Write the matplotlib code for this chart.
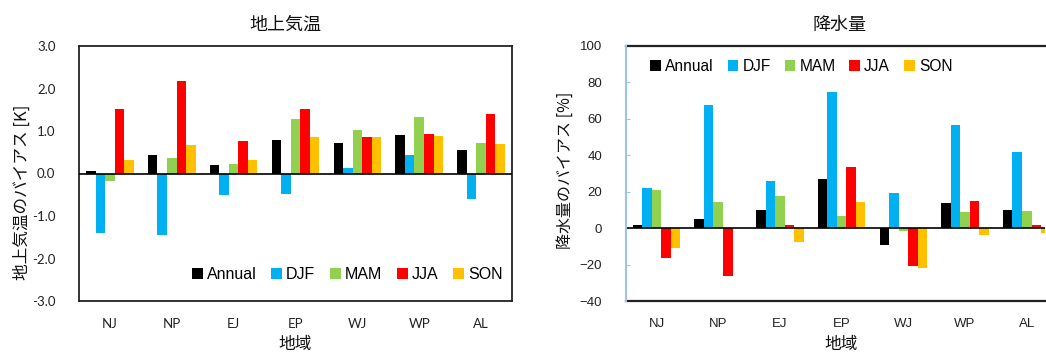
import numpy as np
import matplotlib
matplotlib.use("Agg")
import matplotlib.pyplot as plt

regions = ["NJ", "NP", "EJ", "EP", "WJ", "WP", "AL"]
seasons = ["Annual", "DJF", "MAM", "JJA", "SON"]
colors = ["#000000", "#00B0F0", "#92D050", "#FF0000", "#FFC000"]

# surface air temperature bias [K]
temp_annual = [0.06, 0.44, 0.20, 0.80, 0.72, 0.90, 0.56]
temp_djf = [-1.39, -1.45, -0.50, -0.48, 0.13, 0.43, -0.59]
temp_mam = [-0.18, 0.37, 0.23, 1.28, 1.03, 1.33, 0.72]
temp_jja = [1.52, 2.17, 0.76, 1.52, 0.86, 0.94, 1.39]
temp_son = [0.32, 0.68, 0.32, 0.87, 0.86, 0.89, 0.69]

# precipitation bias [%]
prec_annual = [1.6, 5.0, 10.0, 27.0, -9.3, 13.6, 10.0]
prec_djf = [22.0, 67.4, 25.7, 75.0, 19.5, 56.6, 41.6]
prec_mam = [21.0, 14.3, 17.5, 6.7, -1.6, 9.0, 9.5]
prec_jja = [-16.5, -26.0, 1.8, 33.6, -20.7, 14.9, 2.0]
prec_son = [-11.0, 0.0, -7.7, 14.3, -22.0, -4.0, -2.7]

temp = [temp_annual, temp_djf, temp_mam, temp_jja, temp_son]
prec = [prec_annual, prec_djf, prec_mam, prec_jja, prec_son]

JP = ["Noto Sans CJK JP", "DejaVu Sans"]
NUM_L = ["Lato", "DejaVu Sans"]
NUM_R = ["Liberation Sans", "DejaVu Sans"]

fig = plt.figure(figsize=(10.46, 3.52), dpi=100)
W, H = 1046.0, 352.0


def px_axes(x0, y0, x1, y1):
    return fig.add_axes([x0 / W, 1 - y1 / H, (x1 - x0) / W, (y1 - y0) / H])


def draw_bars(ax, series):
    x = np.arange(len(regions))
    bw = 0.154
    for i, (name, vals) in enumerate(zip(seasons, series)):
        ax.bar(x + (i - 2) * bw, vals, bw, color=colors[i], label=name, zorder=2)
    ax.axhline(0, color="black", lw=1.2, zorder=3)
    ax.set_xlim(-0.5, len(regions) - 0.5)
    ax.set_xticks(x)


# left: surface air temperature
ax1 = px_axes(79, 46, 512, 301)
draw_bars(ax1, temp)
ax1.set_ylim(-3, 3)
ax1.set_yticks(np.arange(-3, 3.01, 1.0))
ax1.set_yticklabels(["%.1f" % v for v in np.arange(-3, 3.01, 1.0)],
                    family=NUM_L, fontsize=9.5, color="#222222")
ax1.set_xticklabels(regions, family=NUM_L, fontsize=9.5, color="#222222")
ax1.tick_params(axis="both", length=0, pad=17)
ax1.tick_params(axis="x", pad=12)
for s in ax1.spines.values():
    s.set_color("#222222")
    s.set_linewidth(1.3)
ax1.legend(loc="lower right", bbox_to_anchor=(1.0, 0.035), ncol=5, frameon=False,
           prop={"family": NUM_R, "size": 11.5}, handlelength=0.7,
           handleheight=0.7, handletextpad=0.25, columnspacing=0.9,
           borderaxespad=0.2)
fig.text(285 / W, 1 - 25 / H, "地上気温", ha="center", va="center",
         family=JP, fontsize=13, color="#111111")
fig.text(295 / W, 1 - 344 / H, "地域", ha="center", va="center",
         family=JP, fontsize=12, color="#111111")
fig.text(22 / W, 1 - 192 / H, "地上気温のバイアス [K]", ha="center", va="center",
         rotation=90, family=JP, fontsize=12, color="#111111")

# right: precipitation (chart runs off the right edge of the image)
x_right = 1045.0
ax2 = px_axes(625.7, 46, x_right, 301)
draw_bars(ax2, prec)
ax2.set_xlim(-0.5, -0.5 + (x_right - 625.7) / 61.7)
ax2.set_ylim(-40, 100)
ax2.set_yticks(np.arange(-40, 101, 20))
ax2.set_yticklabels(["\u2212%d" % -v if v < 0 else "%d" % v for v in range(-40, 101, 20)],
                    family=NUM_R, fontsize=9.5, color="#222222")
ax2.set_xticklabels(regions, family=NUM_R, fontsize=9.5, color="#222222")
ax2.tick_params(axis="y", direction="in", length=3, color="#9DC3E6", pad=17)
ax2.tick_params(axis="x", length=0, pad=12)
ax2.spines["right"].set_visible(False)
for side in ["top", "bottom"]:
    ax2.spines[side].set_color("#222222")
    ax2.spines[side].set_linewidth(1.6)
ax2.spines["left"].set_color("#9DC3E6")
ax2.spines["left"].set_linewidth(1.5)
ax2.spines["left"].set_zorder(6)
ax2.legend(loc="upper left", bbox_to_anchor=(0.036, 0.985), ncol=5,
           frameon=False, prop={"family": NUM_R, "size": 11.2}, handlelength=0.7,
           handleheight=0.7, handletextpad=0.25, columnspacing=0.9,
           borderaxespad=0.2)
fig.text(839 / W, 1 - 25 / H, "降水量", ha="center", va="center",
         family=JP, fontsize=13, color="#111111")
fig.text(841 / W, 1 - 344 / H, "地域", ha="center", va="center",
         family=JP, fontsize=12, color="#111111")
fig.text(565 / W, 1 - 170 / H, "降水量のバイアス [%]", ha="center", va="center",
         rotation=90, family=JP, fontsize=11.5, color="#111111")

fig.savefig("out.png", dpi=100)
